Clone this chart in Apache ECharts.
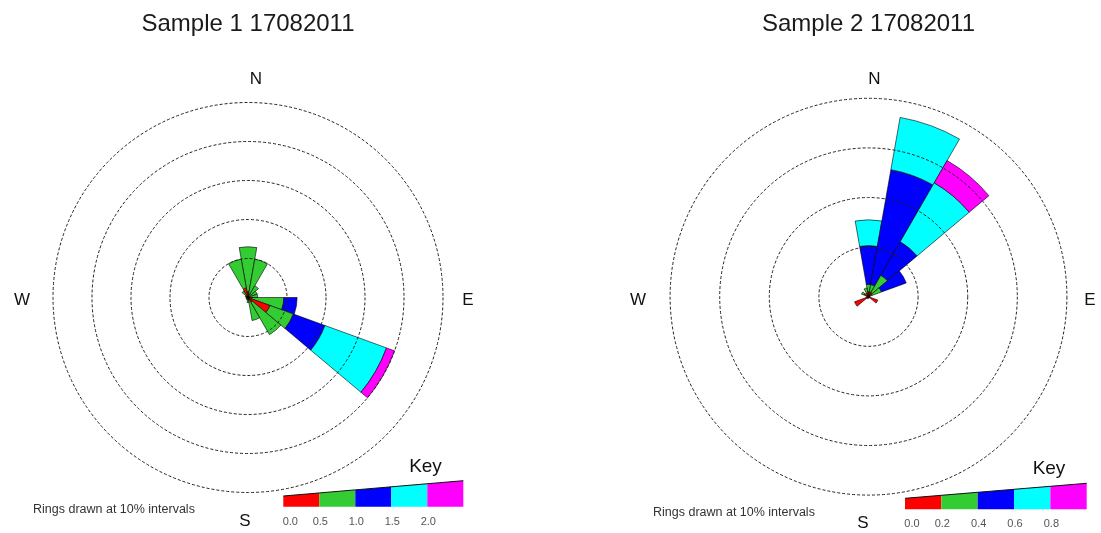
<!DOCTYPE html>
<html><head><meta charset="utf-8">
<script src="https://cdn.jsdelivr.net/npm/echarts@6/dist/echarts.min.js"></script>
<style>html,body{margin:0;padding:0;background:#fff}#c{width:1101px;height:533px}</style>
</head><body><div id="c"></div>
<script>
// direction bins (degrees, bin centres, 20° wide)
const directions = ['0','20','40','60','80','100','120','140','160','180','200','220','240','260','280','300','320','340'];

// Sample 1 – % frequency per speed class
const s1Class1 = [1.5, 1.0, 0.5, 0.3, 0.3, 1.0, 6.0, 1.5, 0.8, 0.3, 0.2, 0.2, 0.2, 0.2, 0.2, 0.3, 0.5, 2.5];
const s1Class2 = [11.5, 9.0, 3.0, 2.2, 2.2, 8.2, 6.4, 9.5, 5.2, 1.0, 0.5, 0.3, 0.3, 0.3, 0.3, 0.5, 1.5, 7.5];
const s1Class3 = [0, 0, 0, 0, 0, 3.4, 8.6, 0, 0, 0, 0, 0, 0, 0, 0, 0, 0, 0];
const s1Class4 = [0, 0, 0, 0, 0, 0, 16.8, 0, 0, 0, 0, 0, 0, 0, 0, 0, 0, 0];
const s1Class5 = [0, 0, 0, 0, 0, 0, 2.2, 0, 0, 0, 0, 0, 0, 0, 0, 0, 0, 0];

// Sample 2 – % frequency per speed class
const s2Class1 = [1.0, 1.0, 1.0, 0.8, 0.3, 0.3, 2.0, 0.3, 0.3, 0.3, 0.3, 0.5, 3.0, 0.5, 0.3, 1.0, 0.5, 0.8];
const s2Class2 = [1.5, 1.5, 4.0, 2.0, 0, 0, 0, 0, 0, 0, 0, 0, 0, 0, 0, 0.5, 0.3, 1.0];
const s2Class3 = [7.8, 23.5, 7.8, 5.3, 0, 0, 0, 0, 0, 0, 0, 0, 0, 0, 0, 0, 0, 0];
const s2Class4 = [5.2, 10.7, 13.7, 0, 0, 0, 0, 0, 0, 0, 0, 0, 0, 0, 0, 0, 0, 0];
const s2Class5 = [0, 0, 5.2, 0, 0, 0, 0, 0, 0, 0, 0, 0, 0, 0, 0, 0, 0, 0];

// ring values (%)
const rings1 = [10, 20, 30, 40, 50];
const rings2 = [10, 20, 30, 40];

const titles = ['Sample 1 17082011', 'Sample 2 17082011'];
const keyLabels1 = ['0.0', '0.5', '1.0', '1.5', '2.0'];
const keyLabels2 = ['0.0', '0.2', '0.4', '0.6', '0.8'];
const classColors = ['#ff0000', '#33cc33', '#0000ff', '#00ffff', '#ff00ff'];

const FONT = '"Liberation Sans", Arial, sans-serif';
const chart = echarts.init(document.getElementById('c'), null, {renderer: 'canvas'});

const layouts = [
  {cx: 248, cy: 297.5, r: 195, keyX0: 283.3, keyX1: 463.3, keyB: 506.7, keyTL: 496, keyTR: 480.7, labelY: 522,
   N: [256, 79], S: [245, 521], W: [22, 300], E: [468, 300], ringsText: [33, 510], keyWord: [425.5, 467]},
  {cx: 868.5, cy: 296.7, r: 198.4, keyX0: 905, keyX1: 1086.7, keyB: 509.3, keyTL: 498.3, keyTR: 483.3, labelY: 524,
   N: [874.5, 79], S: [863, 523], W: [638, 300], E: [1090, 300], ringsText: [653, 513], keyWord: [1049, 469]}
];
const ringSets = [rings1, rings2];
const sets = [[s1Class1, s1Class2, s1Class3, s1Class4, s1Class5], [s2Class1, s2Class2, s2Class3, s2Class4, s2Class5]];

const polar = layouts.map(l => ({center: [l.cx, l.cy], radius: l.r}));
const angleAxis = layouts.map((l, i) => ({
  polarIndex: i, type: 'category', data: directions, startAngle: 100, clockwise: true,
  boundaryGap: true, axisLine: {show: false}, axisTick: {show: false}, axisLabel: {show: false}, splitLine: {show: false}
}));
const radiusAxis = layouts.map((l, i) => ({
  polarIndex: i, type: 'value', min: 0, max: ringSets[i][ringSets[i].length - 1], interval: 10,
  axisLine: {show: false}, axisTick: {show: false}, axisLabel: {show: false}, splitLine: {show: false}
}));

function makeRenderer(rings) {
  const nDir = directions.length;
  return function (params, api) {
    const j = api.value(0);
    const c = api.coord([0, j]);
    const cx = c[0], cy = c[1];
    const p = api.coord([1, j]);
    const jn = j < nDir - 1 ? j + 1 : j - 1;
    const q = api.coord([1, jn]);
    const a = Math.atan2(p[1] - cy, p[0] - cx);
    let d = Math.atan2(q[1] - cy, q[0] - cx) - a;
    while (d > Math.PI) d -= 2 * Math.PI;
    while (d < -Math.PI) d += 2 * Math.PI;
    const half = Math.abs(d) / 2;
    const rad = v => { const t = api.coord([v, j]); return Math.hypot(t[0] - cx, t[1] - cy); };
    const children = [];
    let cum = 0;
    for (let k = 0; k < classColors.length; k++) {
      const v = api.value(k + 1);
      if (v > 0) {
        children.push({type: 'sector', z2: 1,
          shape: {cx: cx, cy: cy, r0: rad(cum), r: rad(cum + v), startAngle: a - half, endAngle: a + half, clockwise: true},
          style: {fill: classColors[k], stroke: '#000', lineWidth: 0.6}});
        cum += v;
      }
    }
    if (j === nDir - 1) {
      rings.forEach(rv => {
        children.push({type: 'circle', z2: 50, shape: {cx: cx, cy: cy, r: rad(rv)},
          style: {fill: null, stroke: '#222', lineWidth: 1, lineDash: [3, 2]}});
      });
    }
    return {type: 'group', children: children};
  };
}

const series = sets.map((set, i) => ({
  type: 'custom', coordinateSystem: 'polar', polarIndex: i, silent: true, clip: false,
  encode: {angle: 0, radius: 1},
  data: directions.map((d, j) => [j].concat(set.map(arr => arr[j]))),
  renderItem: makeRenderer(ringSets[i])
}));

const graphic = [];
function txt(x, y, text, size, color, align) {
  graphic.push({type: 'text', x: x, y: y, silent: true, z: 20,
    style: {text: text, font: size + 'px ' + FONT, fill: color, textAlign: align || 'center', align: align || 'center',
      textVerticalAlign: 'middle', verticalAlign: 'middle'}});
}
layouts.forEach((l, i) => {
  txt(l.cx, 24, titles[i], 24, '#1a1a1a');
  txt(l.N[0], l.N[1], 'N', 17, '#111');
  txt(l.S[0], l.S[1], 'S', 17, '#111');
  txt(l.W[0], l.W[1], 'W', 17, '#111');
  txt(l.E[0], l.E[1], 'E', 17, '#111');
  txt(l.ringsText[0], l.ringsText[1], 'Rings drawn at 10% intervals', 12.5, '#333', 'left');
  txt(l.keyWord[0], l.keyWord[1], 'Key', 19, '#111');
  const n = classColors.length;
  const w = (l.keyX1 - l.keyX0) / n;
  const topAt = x => l.keyTL + (l.keyTR - l.keyTL) * (x - l.keyX0) / (l.keyX1 - l.keyX0);
  for (let k = 0; k < n; k++) {
    const a = l.keyX0 + k * w, b = a + w;
    graphic.push({type: 'polygon', silent: true, z: 20,
      shape: {points: [[a, l.keyB], [a, topAt(a)], [b, topAt(b)], [b, l.keyB]]},
      style: {fill: classColors[k], stroke: null}});
  }
  graphic.push({type: 'polyline', silent: true, z: 21,
    shape: {points: [[l.keyX0, l.keyTL], [l.keyX1, l.keyTR]]}, style: {stroke: '#111', lineWidth: 1, fill: null}});
  const labs = i === 0 ? keyLabels1 : keyLabels2;
  labs.forEach((t, k) => txt(l.keyX0 + k * w + (k === 0 ? 7 : 1), l.labelY, t, 11, '#555'));
});

chart.setOption({
  animation: false,
  backgroundColor: '#fff',
  polar: polar,
  angleAxis: angleAxis,
  radiusAxis: radiusAxis,
  series: series,
  graphic: graphic
});
</script>
</body></html>
